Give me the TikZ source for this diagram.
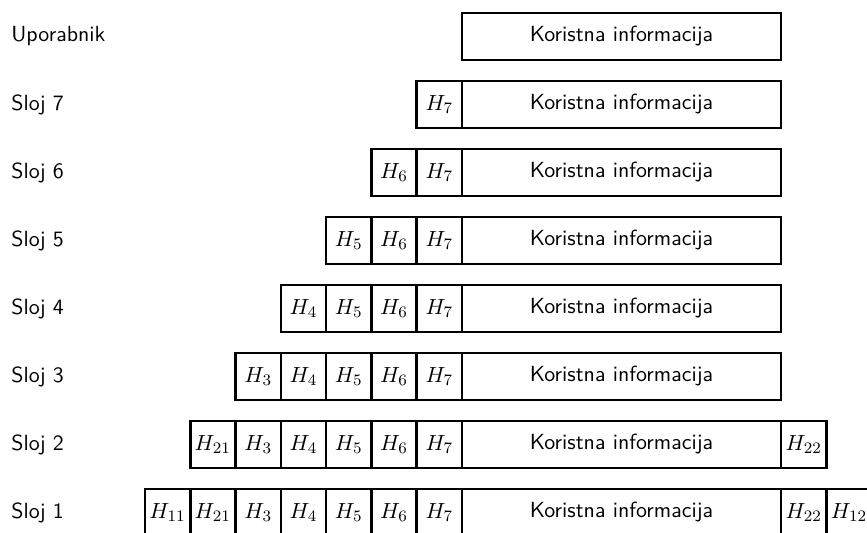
\documentclass[tikz,border=0pt]{standalone}
\begin{document}
\begin{tikzpicture}[x=0.5pt,y=-0.5pt,
  box/.style={draw,line width=1.3pt,rectangle,inner sep=0pt,outer sep=0pt,
    minimum height=23.5pt,font=\fontsize{10.95}{13}\selectfont\sffamily},
  hbox/.style={box,minimum width=22.65pt},
  mbox/.style={box,minimum width=159.5pt},
  lab/.style={anchor=west,inner sep=0pt,font=\fontsize{10.95}{13}\selectfont\sffamily}]
\useasboundingbox (0,0) rectangle (867,532);
% labels
\node[lab] (l0) at (11,36.5) {Uporabnik};
\foreach \k/\s in {1/7,2/6,3/5,4/4,5/3,6/2,7/1}
  \node[lab] (l\k) at (11,{36.5+68*\k}) {Sloj \s};
% main boxes
\foreach \k in {0,...,7}
  \node[mbox] (m\k) at (621.5,{36.5+68*\k}) {Koristna informacija};
% header boxes H7..H3
\foreach \k in {1,...,7}{
  \foreach \j in {7,...,3}{
    \pgfmathtruncatemacro{\need}{8-\k}
    \ifnum\j<\need\relax\else
      \node[hbox] (h\k-\j) at ({462-45.3*(7-\j)-22.65},{36.5+68*\k}) {$H_{\j}$};
    \fi
  }
}
% row Sloj 2
\node[hbox] (h6-21) at ({462-45.3*5-22.65},444.5) {$H_{21}$};
\node[hbox] (h6-22) at ({781+22.65},444.5) {$H_{22}$};
% row Sloj 1
\node[hbox] (h7-21) at ({462-45.3*5-22.65},512.5) {$H_{21}$};
\node[hbox] (h7-11) at ({462-45.3*6-22.65},512.5) {$H_{11}$};
\node[hbox] (h7-22) at ({781+22.65},512.5) {$H_{22}$};
\node[hbox] (h7-12) at ({781+45.3+22.65},512.5) {$H_{12}$};
\end{tikzpicture}
\end{document}
